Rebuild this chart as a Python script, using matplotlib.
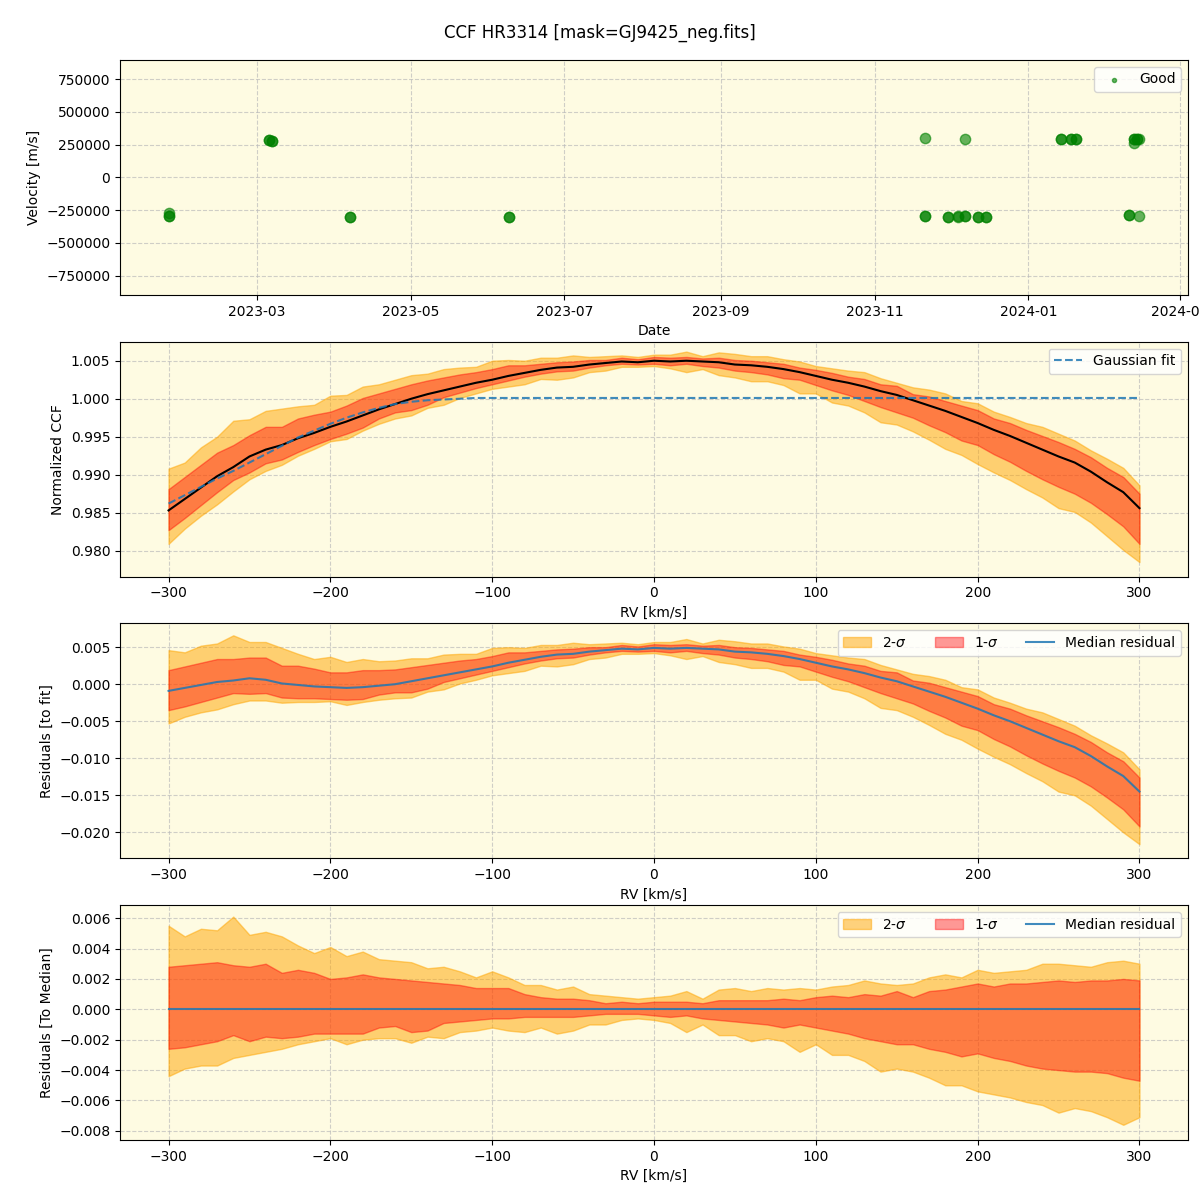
import numpy as np
import matplotlib
matplotlib.use("Agg")
from matplotlib import pyplot as plt
import matplotlib.dates as mdates
from datetime import datetime

# ---------------- datos ----------------
fechas = ['2023-01-25', '2023-01-25', '2023-01-25',
          '2023-03-06', '2023-03-06', '2023-03-07', '2023-03-07',
          '2023-04-07', '2023-04-07',
          '2023-06-09', '2023-06-09',
          '2023-11-21', '2023-11-21', '2023-11-21',
          '2023-11-30', '2023-11-30',
          '2023-12-04', '2023-12-04',
          '2023-12-07', '2023-12-07', '2023-12-07',
          '2023-12-12', '2023-12-12',
          '2023-12-15', '2023-12-15',
          '2024-01-14', '2024-01-14',
          '2024-01-18', '2024-01-18',
          '2024-01-20', '2024-01-20',
          '2024-02-10', '2024-02-10',
          '2024-02-12', '2024-02-12', '2024-02-12',
          '2024-02-13', '2024-02-13',
          '2024-02-14', '2024-02-14']
velocidades = [-268000, -295000, -298000,
               285000, 287000, 278000, 280000,
               -299000, -301000,
               -299000, -300000,
               297000, -292000, -293000,
               -300000, -302000,
               -297000, -299000,
               292000, -297000, -298000,
               -301000, -303000,
               -303000, -304000,
               294000, 296000,
               294000, 295000,
               292000, 294000,
               -288000, -290000,
               292000, 290000, 259000,
               293000, 295000,
               294000, -297000]

rv = np.arange(-300, 301, 10)

ajuste_gauss = [0.9862, 0.9873, 0.9884, 0.9895, 0.9905, 0.9916, 0.9927, 0.9938,
                0.9949, 0.9958, 0.9967, 0.9975, 0.9982, 0.9988, 0.9993, 0.9996,
                0.9998, 0.9999, 1.0000, 1.0001] + [1.0001] * 41

residuo_mediana = [-0.0009, -0.0005, -0.0001, 0.0003, 0.0005, 0.0008, 0.0006, 0.0001,
                   -0.0001, -0.0003, -0.0004, -0.0005, -0.0004, -0.0002, 0.0000, 0.0004,
                   0.0008, 0.0012, 0.0016, 0.0020, 0.0024, 0.0029, 0.0033, 0.0037,
                   0.0040, 0.0041, 0.0044, 0.0046, 0.0048, 0.0047, 0.0049, 0.0048,
                   0.0049, 0.0048, 0.0047, 0.0044, 0.0043, 0.0041, 0.0038, 0.0034,
                   0.0029, 0.0024, 0.0020, 0.0015, 0.0009, 0.0004, -0.0003, -0.0010,
                   -0.0017, -0.0025, -0.0033, -0.0042, -0.0050, -0.0059, -0.0068, -0.0077,
                   -0.0085, -0.0097, -0.0111, -0.0124, -0.0145]

# bandas relativas a la mediana
sup_2s = [0.0055, 0.0048, 0.0053, 0.0052, 0.0061, 0.0049, 0.0051, 0.0048, 0.0042, 0.0037,
          0.0041, 0.0035, 0.0038, 0.0033, 0.0032, 0.0031, 0.0027, 0.0028, 0.0025, 0.0021,
          0.0025, 0.0021, 0.0016, 0.0016, 0.0013, 0.0015, 0.0010, 0.0009, 0.0008, 0.0007,
          0.0008, 0.0009, 0.0012, 0.0007, 0.0013, 0.0014, 0.0012, 0.0014, 0.0013, 0.0014,
          0.0013, 0.0015, 0.0016, 0.0019, 0.0017, 0.0016, 0.0017, 0.0021, 0.0023, 0.0021,
          0.0026, 0.0024, 0.0025, 0.0026, 0.0030, 0.0030, 0.0029, 0.0028, 0.0031, 0.0032,
          0.0030]
sup_1s = [0.0028, 0.0029, 0.0030, 0.0031, 0.0029, 0.0028, 0.0030, 0.0024, 0.0026, 0.0024,
          0.0020, 0.0021, 0.0023, 0.0021, 0.0020, 0.0019, 0.0018, 0.0017, 0.0016, 0.0014,
          0.0014, 0.0014, 0.0010, 0.0008, 0.0007, 0.0007, 0.0006, 0.0004, 0.0005, 0.0004,
          0.0005, 0.0005, 0.0005, 0.0004, 0.0006, 0.0006, 0.0006, 0.0006, 0.0007, 0.0006,
          0.0008, 0.0009, 0.0008, 0.0010, 0.0009, 0.0012, 0.0008, 0.0012, 0.0013, 0.0015,
          0.0017, 0.0015, 0.0017, 0.0017, 0.0018, 0.0019, 0.0018, 0.0019, 0.0019, 0.0020,
          0.0019]
inf_1s = [-0.0026, -0.0025, -0.0023, -0.0021, -0.0017, -0.0021, -0.0018, -0.0019, -0.0018, -0.0016,
          -0.0016, -0.0016, -0.0016, -0.0012, -0.0011, -0.0015, -0.0014, -0.0009, -0.0008, -0.0007,
          -0.0006, -0.0006, -0.0005, -0.0005, -0.0005, -0.0005, -0.0004, -0.0003, -0.0003, -0.0003,
          -0.0004, -0.0005, -0.0004, -0.0006, -0.0007, -0.0008, -0.0009, -0.0010, -0.0012, -0.0010,
          -0.0012, -0.0014, -0.0016, -0.0019, -0.0021, -0.0023, -0.0023, -0.0026, -0.0028, -0.0031,
          -0.0029, -0.0032, -0.0034, -0.0037, -0.0039, -0.0040, -0.0041, -0.0041, -0.0042, -0.0045,
          -0.0047]
inf_2s = [-0.0044, -0.0039, -0.0037, -0.0037, -0.0032, -0.0030, -0.0028, -0.0026, -0.0023, -0.0021,
          -0.0019, -0.0023, -0.0020, -0.0019, -0.0019, -0.0022, -0.0018, -0.0019, -0.0015, -0.0014,
          -0.0012, -0.0014, -0.0015, -0.0012, -0.0016, -0.0014, -0.0010, -0.0010, -0.0007, -0.0006,
          -0.0007, -0.0009, -0.0015, -0.0010, -0.0017, -0.0017, -0.0021, -0.0019, -0.0021, -0.0028,
          -0.0023, -0.0030, -0.0030, -0.0034, -0.0041, -0.0039, -0.0041, -0.0045, -0.0050, -0.0050,
          -0.0054, -0.0056, -0.0058, -0.0061, -0.0063, -0.0068, -0.0065, -0.0067, -0.0071, -0.0076,
          -0.0071]

# ---------------- figura ----------------
fondo = '#fefbe2'
fig, axes = plt.subplots(4, 1, figsize=(12, 12), dpi=100)
fig.subplots_adjust(left=0.1, right=0.99, top=0.95, bottom=0.05, hspace=0.2)
fig.suptitle('CCF HR3314 [mask=GJ9425_neg.fits]', y=0.98, fontsize=12)

for ax in axes:
    ax.set_facecolor(fondo)
    ax.grid(True, linestyle='--', color='#bbbbbb', alpha=0.7, linewidth=0.8)
    ax.set_axisbelow(True)

# panel 1: velocidades
t = [datetime.strptime(f, '%Y-%m-%d') for f in fechas]
ax = axes[0]
ax.scatter(t, velocidades, s=55, color='green', alpha=0.6, label='Good')
ax.set_ylim(-895000, 895000)
ax.yaxis.set_major_locator(plt.MultipleLocator(250000))
ax.xaxis.set_major_locator(mdates.MonthLocator(bymonth=[1, 3, 5, 7, 9, 11]))
ax.xaxis.set_major_formatter(mdates.DateFormatter('%Y-%m'))
ax.set_xlabel('Date')
ax.set_ylabel('Velocity [m/s]')
ax.legend(loc='upper right', markerscale=0.4)

fit = np.array(ajuste_gauss)
med = np.array(residuo_mediana)
u2, u1 = np.array(sup_2s), np.array(sup_1s)
l1, l2 = np.array(inf_1s), np.array(inf_2s)

# panel 2: CCF normalizada
ax = axes[1]
base = fit + med
ax.fill_between(rv, base + l2, base + u2, color='orange', alpha=0.5)
ax.fill_between(rv, base + l1, base + u1, color='red', alpha=0.4)
ax.plot(rv, base, color='black', linewidth=1.5)
ax.plot(rv, fit, '--', color='#1f77b4', alpha=0.85, linewidth=1.5, label='Gaussian fit')
ax.set_ylim(0.9766, 1.0075)
ax.set_xlim(-330, 330)
ax.set_xlabel('RV [km/s]')
ax.set_ylabel('Normalized CCF')
ax.legend(loc='upper right')

# panel 3: residuos al ajuste
ax = axes[2]
ax.fill_between(rv, med + l2, med + u2, color='orange', alpha=0.5, label='2-$\\sigma$')
ax.fill_between(rv, med + l1, med + u1, color='red', alpha=0.4, label='1-$\\sigma$')
ax.plot(rv, med, color='#1f77b4', alpha=0.85, linewidth=1.5, label='Median residual')
ax.set_ylim(-0.0235, 0.0082)
ax.set_xlim(-330, 330)
ax.set_xlabel('RV [km/s]')
ax.set_ylabel('Residuals [to fit]')
ax.legend(loc='upper right', ncol=3)

# panel 4: residuos a la mediana
ax = axes[3]
cero = med - med
ax.fill_between(rv, l2, u2, color='orange', alpha=0.5, label='2-$\\sigma$')
ax.fill_between(rv, l1, u1, color='red', alpha=0.4, label='1-$\\sigma$')
ax.plot(rv, cero, color='#1f77b4', alpha=0.85, linewidth=1.5, label='Median residual')
ax.set_ylim(-0.0086, 0.00685)
ax.set_xlim(-330, 330)
ax.set_xlabel('RV [km/s]')
ax.set_ylabel('Residuals [To Median]')
ax.legend(loc='upper right', ncol=3)

plt.savefig('out.png', dpi=100)
